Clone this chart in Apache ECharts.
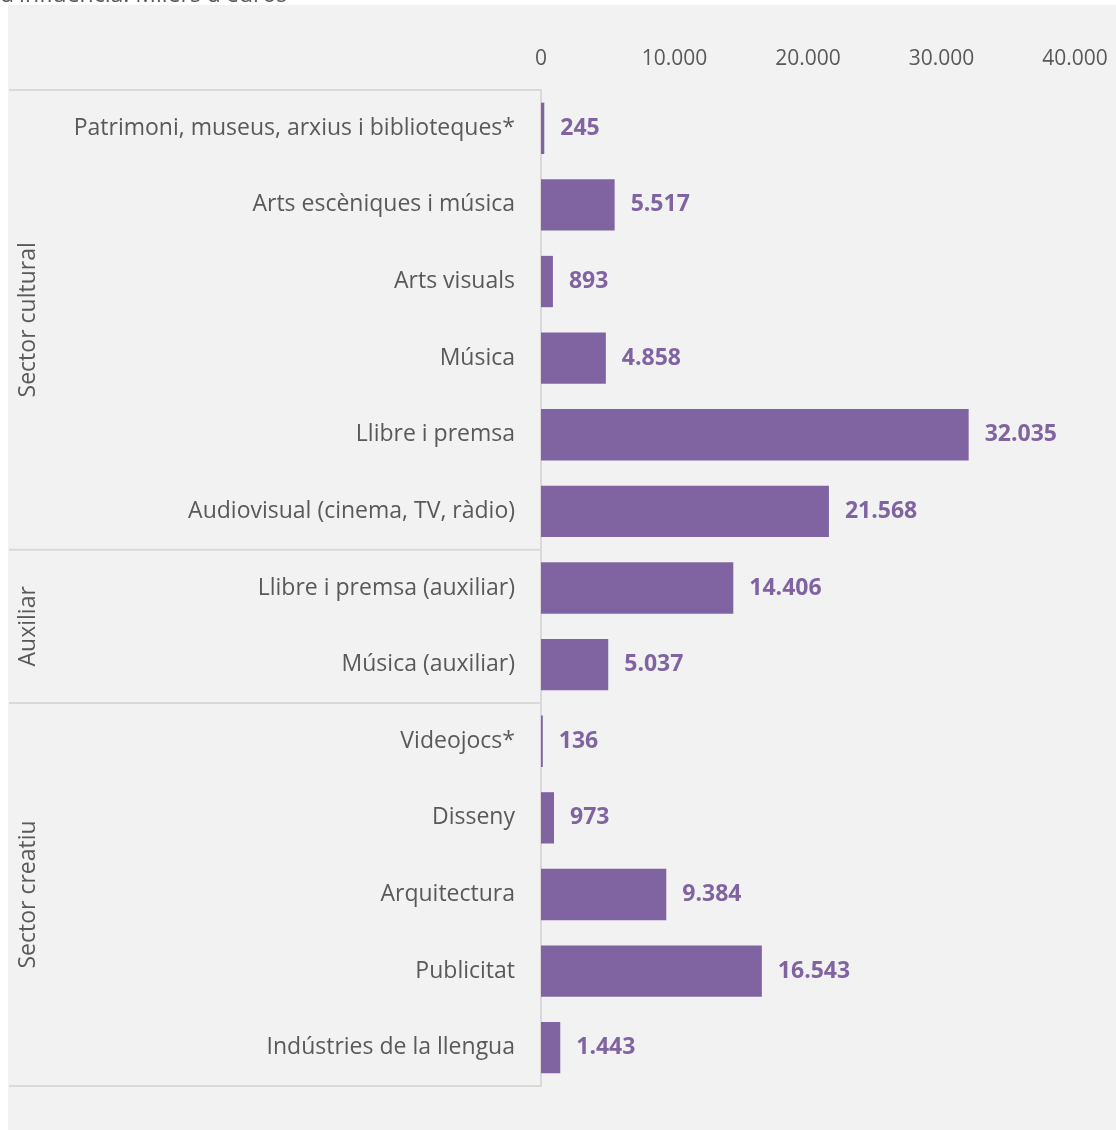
<!DOCTYPE html>
<html>
<head>
<meta charset="utf-8">
<script src="https://cdn.jsdelivr.net/npm/echarts@6/dist/echarts.min.js"></script>
<style>
  html, body { margin: 0; padding: 0; background: #ffffff; }
  #chart { width: 1116px; height: 1130px; }
</style>
</head>
<body>
<div id="chart"></div>
<script>
// dades (milers d'euros)
const categories = [
  'Patrimoni, museus, arxius i biblioteques*',
  'Arts escèniques i música',
  'Arts visuals',
  'Música',
  'Llibre i premsa',
  'Audiovisual (cinema, TV, ràdio)',
  'Llibre i premsa (auxiliar)',
  'Música (auxiliar)',
  'Videojocs*',
  'Disseny',
  'Arquitectura',
  'Publicitat',
  'Indústries de la llengua'
];
const values = [245, 5517, 893, 4858, 32035, 21568, 14406, 5037, 136, 973, 9384, 16543, 1443];
const groupNames = ['Sector cultural', 'Auxiliar', 'Sector creatiu'];
const groupSizes = [6, 2, 5];
const axisTicks = [0, 10000, 20000, 30000, 40000];

const purple = '#8064a2';
const grey = '#595959';
const lineGrey = '#d9d9d9';
const font = '"Open Sans", sans-serif';

const fmt = v => String(v).replace(/\B(?=(\d{3})+(?!\d))/g, '.');

const chart = echarts.init(document.getElementById('chart'));

const option = {
  backgroundColor: 'transparent',
  animation: false,
  grid: { left: 541, right: 41, top: 90, bottom: 44, containLabel: false },
  xAxis: {
    type: 'value',
    position: 'top',
    min: axisTicks[0],
    max: axisTicks[axisTicks.length - 1],
    interval: axisTicks[1] - axisTicks[0],
    splitLine: { show: false },
    axisLine: { show: false },
    axisTick: { show: false },
    axisLabel: {
      color: grey, fontSize: 21, fontFamily: font, margin: 20,
      formatter: v => fmt(v)
    }
  },
  yAxis: {
    type: 'category',
    inverse: true,
    data: categories,
    axisLine: { show: true, lineStyle: { color: lineGrey, width: 2 } },
    axisTick: { show: false },
    axisLabel: { color: grey, fontSize: 23, fontFamily: font, margin: 26 }
  },
  series: [{
    type: 'bar',
    data: values,
    barCategoryGap: '33%',
    itemStyle: { color: purple },
    label: {
      show: true,
      position: 'right',
      distance: 16,
      color: purple,
      fontWeight: 'bold',
      fontSize: 23,
      fontFamily: font,
      formatter: p => fmt(p.value)
    }
  }]
};

chart.setOption(option);

// separadors i etiquetes de grup a partir de l'escala de categories
function drawGroups() {
  const graphics = [
    { type: 'rect', z: -10, silent: true, shape: { x: 8, y: 5, width: 1108, height: 1125 }, style: { fill: '#f2f2f2' } },
    { type: 'text', x: 0, y: -5, z: 10, silent: true, style: { text: "d'influència. Milers d'euros", fill: grey, font: '23px ' + font, verticalAlign: 'middle' } }
  ];
  const axisX = chart.convertToPixel({ gridIndex: 0 }, [0, 0])[0];
  const y0 = chart.convertToPixel({ yAxisIndex: 0 }, categories[0]);
  const y1 = chart.convertToPixel({ yAxisIndex: 0 }, categories[1]);
  const band = y1 - y0;
  let start = 0;
  const edges = [y0 - band / 2];
  groupSizes.forEach((n, gi) => {
    const top = y0 + (start - 0.5) * band;
    const bottom = y0 + (start + n - 0.5) * band;
    edges.push(bottom);
    graphics.push({
      type: 'text',
      x: 28, y: (top + bottom) / 2,
      rotation: Math.PI / 2,
      style: { text: groupNames[gi], fill: grey, font: '23px ' + font, textAlign: 'center', textVerticalAlign: 'middle' }
    });
    start += n;
  });
  edges.forEach(y => {
    graphics.push({
      type: 'line', silent: true,
      shape: { x1: 9, y1: y, x2: axisX, y2: y },
      style: { stroke: lineGrey, lineWidth: 2 }
    });
  });
  chart.setOption({ graphic: graphics });
}
drawGroups();
</script>
</body>
</html>
